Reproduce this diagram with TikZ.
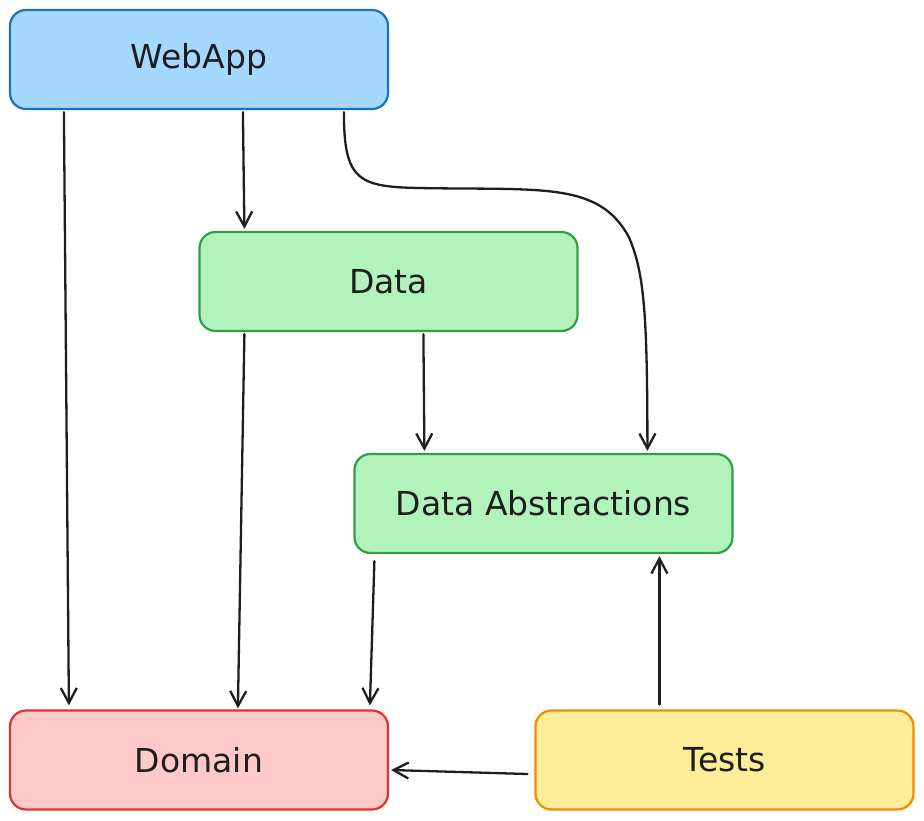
\documentclass[tikz,border=0pt]{standalone}
\usepackage{fontspec}
\setmainfont{DejaVu Sans}
\usetikzlibrary{arrows.meta,calc}
\definecolor{blueF}{HTML}{A5D8FF}\definecolor{blueD}{HTML}{1971C2}
\definecolor{greenF}{HTML}{B2F2BB}\definecolor{greenD}{HTML}{2F9E44}
\definecolor{redF}{HTML}{FFC9C9}\definecolor{redD}{HTML}{E03131}
\definecolor{yelF}{HTML}{FFEC99}\definecolor{yelD}{HTML}{F08C00}
\definecolor{ink}{HTML}{1E1E1E}
\tikzset{
  box/.style={draw, line width=2.2pt, rounded corners=16pt, minimum width=378pt, minimum height=99pt,
    font=\fontsize{33}{38}\selectfont, text=ink, inner sep=0pt},
  arr/.style={draw=ink, line width=2.3pt, line cap=round, -{Straight Barb[length=15pt,width=16pt,line width=2.3pt]}}
}
\begin{document}
\begin{tikzpicture}[x=1pt,y=-1pt]
\useasboundingbox (0,0) rectangle (924,820);
\node[box, fill=blueF, draw=blueD] (web) at (199,59.5) {WebApp};
\node[box, fill=greenF, draw=greenD] (data) at (388.5,281.5) {Data};
\node[box, fill=greenF, draw=greenD] (abs) at (543.5,503.5) {Data Abstractions};
\node[box, fill=redF, draw=redD] (dom) at (199,760) {Domain};
\node[box, fill=yelF, draw=yelD] (tests) at (724.5,760) {Tests};
% WebApp -> Domain
\draw[arr] ($(web.south west)+(55,2)$) -- ($(dom.north west)+(60,-4)$);
% WebApp -> Data
\draw[arr] ($(web.south west)+(234,2)$) -- ($(data.north west)+(46,-2)$);
% WebApp -> Data Abstractions (curved)
\coordinate (c1) at ($(web.south west)+(335,2)$);
\coordinate (c2) at ($(abs.north west)+(294,-2)$);
\draw[arr] (c1) .. controls ($(c1)+(0,70)$) and ($(c1)+(15,75)$) .. ($(c1)+(80,76)$)
  .. controls ($(c1)+(200,78)$) and ($(c1)+(255,70)$) .. ($(c1)+(285,125)$)
  .. controls ($(c1)+(300,160)$) and ($(c2)+(0,-140)$) .. (c2);
% Data -> Domain
\draw[arr] ($(data.south west)+(46,2)$) -- ($(dom.north west)+(229,-1)$);
% Data -> Data Abstractions
\draw[arr] ($(data.south west)+(225,2)$) -- ($(abs.north west)+(71,-2)$);
% Data Abstractions -> Domain
\draw[arr] ($(abs.south west)+(21,7)$) -- ($(dom.north west)+(361,-4)$);
% Tests -> Data Abstractions
\draw[arr] ($(tests.north west)+(125,-5)$) -- ($(abs.south west)+(306,2)$);
% Tests -> Domain
\draw[arr] ($(tests.west)+(-7,14)$) -- ($(dom.east)+(2,10)$);
\end{tikzpicture}
\end{document}
